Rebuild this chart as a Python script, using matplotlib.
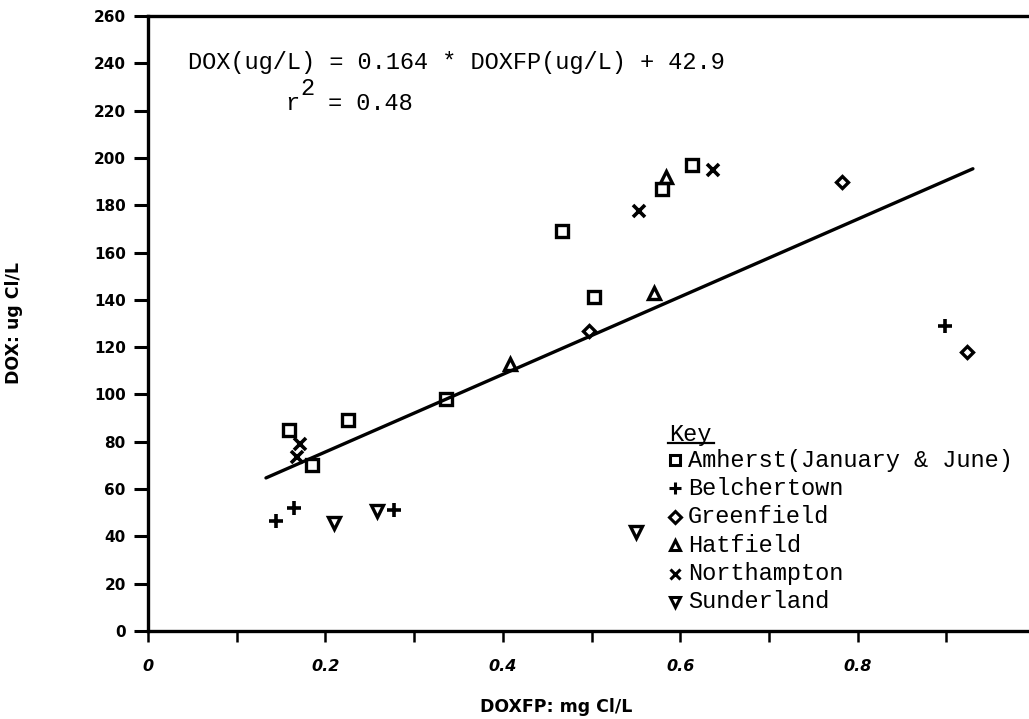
import matplotlib
matplotlib.use("Agg")
import matplotlib.pyplot as plt
import numpy as np

# DOXFP (mg Cl/L) vs DOX (ug Cl/L) by town
amherst_x = [0.159, 0.185, 0.225, 0.336, 0.467, 0.503, 0.580, 0.613]
amherst_y = [85, 70, 89, 98, 169, 141, 187, 197]
belchertown_x = [0.144, 0.165, 0.277, 0.899]
belchertown_y = [46.5, 52, 51, 129]
greenfield_x = [0.497, 0.782, 0.923]
greenfield_y = [127, 190, 118]
hatfield_x = [0.408, 0.571, 0.584]
hatfield_y = [113, 143, 192]
northampton_x = [0.168, 0.171, 0.553, 0.637]
northampton_y = [73.5, 79, 177.5, 195]
sunderland_x = [0.210, 0.258, 0.550]
sunderland_y = [45.5, 50.7, 42]

# fitted line: DOX(ug/L) = 0.164 * DOXFP(ug/L) + 42.9
slope = 0.164
intercept = 42.9
fit_range = [0.133, 0.930]

x_ticks = [0, 0.2, 0.4, 0.6, 0.8]
x_minor = [0.1, 0.3, 0.5, 0.7, 0.9]
y_ticks = list(range(0, 261, 20))

MONO = "Liberation Mono"

W, H = 1029, 719
fig = plt.figure(figsize=(W / 100, H / 100), dpi=100)
fig.patch.set_facecolor("white")

# axes placed so x=0 sits at px 148 and y spans px 631..16
ax = fig.add_axes([148 / W, (H - 631) / H, 887 / W, 615 / H])
ax.set_xlim(0, 1.0)
ax.set_ylim(0, 260)

for side in ("left", "bottom", "top"):
    ax.spines[side].set_linewidth(2.4)
    ax.spines[side].set_color("black")
ax.spines["right"].set_visible(False)

ax.set_yticks(y_ticks)
ax.set_yticklabels([str(v) for v in y_ticks], fontweight="heavy", fontsize=11)
ax.set_xticks(x_ticks)
ax.set_xticklabels(["0", "0.2", "0.4", "0.6", "0.8"], fontweight="heavy",
                   fontstyle="italic", fontsize=11.5)
ax.set_xticks(x_minor, minor=True)
ax.tick_params(axis="y", direction="out", length=10, width=2.2, pad=6)
ax.tick_params(axis="x", which="both", direction="out", length=8, width=1.8, pad=12)

mk = dict(linestyle="none", color="black", markerfacecolor="none")
ax.plot(amherst_x, amherst_y, marker="s", ms=8.5, mew=2.4, **mk)
ax.plot(belchertown_x, belchertown_y, marker="+", ms=10, mew=2.6, **mk)
ax.plot(greenfield_x, greenfield_y, marker="D", ms=6.5, mew=2.4, **mk)
ax.plot(hatfield_x, hatfield_y, marker="^", ms=8.5, mew=2.4, **mk)
ax.plot(northampton_x, northampton_y, marker="x", ms=9, mew=2.6, **mk)
ax.plot(sunderland_x, sunderland_y, marker="v", ms=8.5, mew=2.4, **mk)

fx = np.array(fit_range)
ax.plot(fx, slope * fx * 1000 + intercept, color="black", lw=2.4,
        solid_capstyle="round")

# equation and r^2 (typewriter style: the "2" is a full-size raised glyph)
fig.text(188 / W, 1 - 63 / H, "DOX(ug/L) = 0.164 * DOXFP(ug/L) + 42.9",
         family=MONO, fontsize=17, va="center")
fig.text(285 / W, 1 - 110 / H, "r", family=MONO, fontsize=17, va="baseline")
fig.text(300 / W, 1 - 95 / H, "2", family=MONO, fontsize=17, va="baseline")
fig.text(328 / W, 1 - 110 / H, "= 0.48", family=MONO, fontsize=17,
         va="baseline")

# hand-drawn key
fig.text(669 / W, 1 - 435 / H, "Key", family=MONO, fontsize=17, va="center")
fig.add_artist(plt.Line2D([668 / W, 714 / W], [1 - 443 / H, 1 - 443 / H],
                          color="black", lw=1.6))
key_rows = [("s", 7, "Amherst(January & June)"),
            ("+", 9, "Belchertown"),
            ("D", 6, "Greenfield"),
            ("^", 7.5, "Hatfield"),
            ("x", 7, "Northampton"),
            ("v", 7.5, "Sunderland")]
for i, (m, s, label) in enumerate(key_rows):
    yy = 1 - (460 + 28.4 * i) / H
    fig.add_artist(plt.Line2D([675 / W], [yy], marker=m, ms=s, mew=2.2,
                              color="black", markerfacecolor="none",
                              linestyle="none"))
    fig.text(688 / W, yy, label, family=MONO, fontsize=17, va="center")

fig.text(14 / W, 1 - 323 / H, "DOX: ug Cl/L", rotation=90, fontweight="heavy",
         fontsize=12.5, ha="center", va="center")
fig.text(556 / W, 1 - 707 / H, "DOXFP: mg Cl/L", fontweight="heavy",
         fontsize=12.5, ha="center", va="center")

fig.savefig("out.png", dpi=100, facecolor="white")
